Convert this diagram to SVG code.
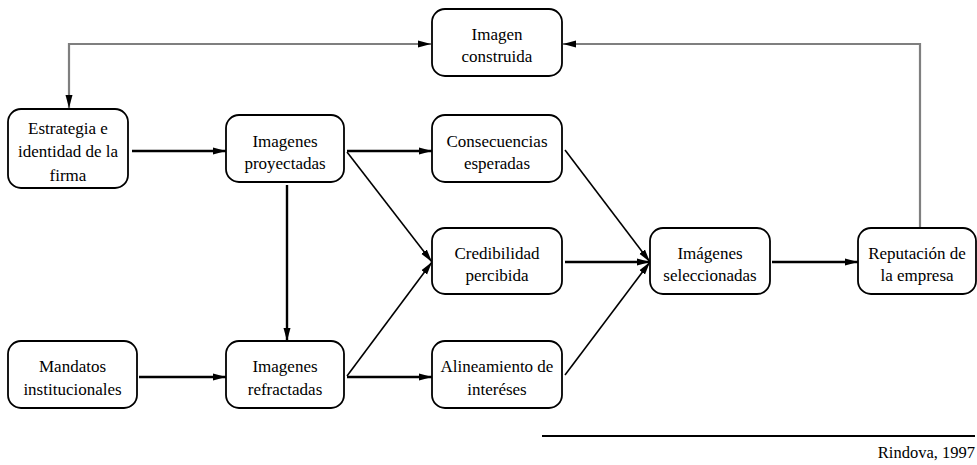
<svg xmlns="http://www.w3.org/2000/svg" width="977" height="465" viewBox="0 0 977 465">
  <style>
    .box { fill: #ffffff; stroke: #000000; stroke-width: 1.8; }
    .lbl { font-family: 'Liberation Serif', 'DejaVu Serif', serif; font-size: 17px; fill: #000000; text-anchor: middle; }
    .main { fill: none; stroke: #000000; stroke-width: 2.4; marker-end: url(#arrow); }
    .diag { fill: none; stroke: #000000; stroke-width: 1.6; marker-end: url(#arrow); }
    .back { fill: none; stroke: #7f7f7f; stroke-width: 2.2; }
    .src { font-family: 'Liberation Serif', 'DejaVu Serif', serif; font-size: 16.5px; fill: #000000; text-anchor: end; }
  </style>
  <defs>
    <marker id="arrow" markerUnits="userSpaceOnUse" markerWidth="14" markerHeight="8" refX="13" refY="4" orient="auto">
      <path d="M0,0.5 L13,4 L0,7.5 Z" fill="#000000"/>
    </marker>
  </defs>

  <!-- connectors -->
  <g id="connectors">
    <!-- feedback loop through the constructed image -->
    <path class="back" d="M920,228 V44 H563"/>
    <path d="M576,40.5 L563,44 L576,47.5 Z" fill="#000000"/>
    <path class="back" d="M69,108 V44 H431"/>
    <path d="M418,40.5 L431,44 L418,47.5 Z" fill="#000000"/>
    <path d="M65.5,95 L69,108 L72.5,95 Z" fill="#000000"/>

    <!-- main flow -->
    <line class="main" x1="132" y1="151" x2="226" y2="151"/>
    <line class="main" x1="347" y1="151" x2="432" y2="151"/>
    <line class="main" x1="287" y1="185" x2="287" y2="341"/>
    <line class="main" x1="139" y1="377" x2="226" y2="377"/>
    <line class="main" x1="347" y1="377" x2="432" y2="377"/>
    <line class="diag" x1="347" y1="152" x2="432" y2="262"/>
    <line class="diag" x1="347" y1="376" x2="432" y2="262"/>
    <line class="main" x1="565" y1="262" x2="650" y2="262"/>
    <line class="diag" x1="565" y1="150" x2="650" y2="262"/>
    <line class="diag" x1="565" y1="375" x2="650" y2="262"/>
    <line class="main" x1="772" y1="262" x2="858" y2="262"/>
  </g>

  <g id="imagen-construida">
    <rect class="box" x="432" y="9" width="130" height="67" rx="13"/>
    <text class="lbl" x="497" y="40">Imagen</text>
    <text class="lbl" x="497" y="62">construida</text>
  </g>

  <g id="estrategia">
    <rect class="box" x="8" y="109" width="120" height="79" rx="13"/>
    <text class="lbl" x="68" y="133.5">Estrategia e</text>
    <text class="lbl" x="68" y="157">identidad de la</text>
    <text class="lbl" x="68" y="180.5">firma</text>
  </g>

  <g id="imagenes-proyectadas">
    <rect class="box" x="226" y="115" width="118" height="67" rx="13"/>
    <text class="lbl" x="285" y="146.5">Imagenes</text>
    <text class="lbl" x="285" y="168.5">proyectadas</text>
  </g>

  <g id="consecuencias">
    <rect class="box" x="432" y="115" width="130" height="67" rx="13"/>
    <text class="lbl" x="497" y="146.5">Consecuencias</text>
    <text class="lbl" x="497" y="168.5">esperadas</text>
  </g>

  <g id="credibilidad">
    <rect class="box" x="432" y="228" width="130" height="66" rx="13"/>
    <text class="lbl" x="497" y="258.5">Credibilidad</text>
    <text class="lbl" x="497" y="281">percibida</text>
  </g>

  <g id="alineamiento">
    <rect class="box" x="432" y="341" width="130" height="67" rx="13"/>
    <text class="lbl" x="497" y="371.5">Alineamiento de</text>
    <text class="lbl" x="497" y="395">interéses</text>
  </g>

  <g id="mandatos">
    <rect class="box" x="8" y="341" width="129" height="67" rx="13"/>
    <text class="lbl" x="72.5" y="371.5">Mandatos</text>
    <text class="lbl" x="72.5" y="395">institucionales</text>
  </g>

  <g id="imagenes-refractadas">
    <rect class="box" x="226" y="341" width="118" height="67" rx="13"/>
    <text class="lbl" x="285" y="371.5">Imagenes</text>
    <text class="lbl" x="285" y="395">refractadas</text>
  </g>

  <g id="imagenes-seleccionadas">
    <rect class="box" x="650" y="228" width="120" height="66" rx="13"/>
    <text class="lbl" x="710" y="258.5">Imágenes</text>
    <text class="lbl" x="710" y="281">seleccionadas</text>
  </g>

  <g id="reputacion">
    <rect class="box" x="858" y="228" width="118" height="66" rx="13"/>
    <text class="lbl" x="917" y="258.5">Reputación de</text>
    <text class="lbl" x="917" y="281">la empresa</text>
  </g>

  <!-- source rule and citation -->
  <line x1="542" y1="436" x2="975" y2="436" stroke="#000000" stroke-width="2.2"/>
  <text class="src" x="975" y="458">Rindova, 1997</text>
</svg>
